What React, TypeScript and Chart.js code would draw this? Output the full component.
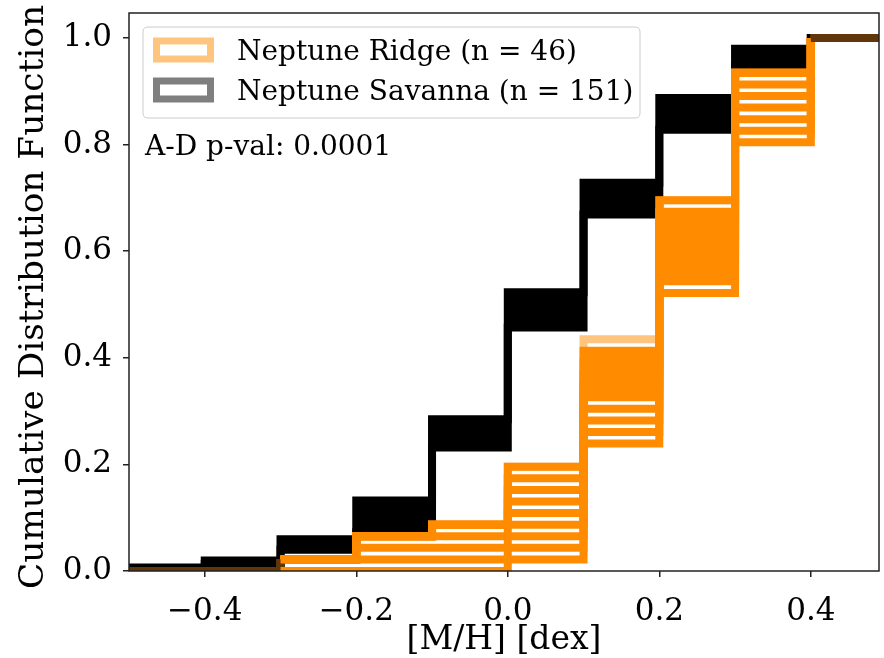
import React, { useEffect, useRef } from "react";
import { Chart, registerables } from "chart.js";

Chart.register(...registerables);

// ---------------- data ----------------
// bin edges of the cumulative step histograms ([M/H] in dex); last edge lies past the axis end
const binEdges = [-0.5, -0.4, -0.3, -0.2, -0.1, 0.0, 0.1, 0.2, 0.3, 0.4, 0.5];

const ridgeN = 46;
const savannaN = 151;

// Neptune Savanna: envelope of the cumulative counts (out of 151) in each bin
const savannaLowerCounts = [0, 2, 6, 11, 35, 69, 101, 125, 143, 151];
const savannaUpperCounts = [1, 3, 9, 20, 43, 79, 110, 134, 148, 151];

// Neptune Ridge: cumulative counts (out of 46) of individual realizations, per bin
const ridgeRealizations = [
  [0, 0, 0, 0, 0, 1, 11, 24, 37, 46],
  [0, 0, 1, 1, 1, 2, 12, 25, 38, 46],
  [0, 0, 1, 2, 2, 3, 13, 26, 39, 46],
  [0, 0, 1, 3, 3, 4, 14, 27, 40, 46],
  [0, 0, 1, 3, 4, 5, 15, 28, 41, 46],
  [0, 0, 1, 3, 4, 6, 16, 29, 42, 46],
  [0, 0, 1, 3, 4, 7, 17, 30, 43, 46],
  [0, 0, 1, 3, 4, 8, 18, 31, 43, 46],
  [0, 0, 1, 3, 4, 9, 19, 32, 43, 46],
];
// rare realization (drawn faint)
const ridgeRareRealization = [0, 0, 1, 3, 4, 9, 20, 32, 43, 46];
// densely covered part of the Ridge band (counts out of 46)
const ridgeDenseLowerCounts = [0, 0, 0, 0, 0, 1, 15, 25, 37, 46];
const ridgeDenseUpperCounts = [0, 0, 0, 0, 0, 1, 19, 31, 37, 46];

const xTickValues = [-0.4, -0.2, 0.0, 0.2, 0.4];
const xTickLabels = ["\u22120.4", "\u22120.2", "0.0", "0.2", "0.4"];
const yTickValues = [0.0, 0.2, 0.4, 0.6, 0.8, 1.0];
const yTickLabels = ["0.0", "0.2", "0.4", "0.6", "0.8", "1.0"];

const xTitle = "[M/H] [dex]";
const yTitle = "Cumulative Distribution Function";
const legendLabels = ["Neptune Ridge (n = 46)", "Neptune Savanna (n = 151)"];
const annotationText = "A-D p-val: 0.0001";

// ---------------- style ----------------
const FONT = '"DejaVu Serif", "Liberation Serif", serif';
const ORANGE = "rgb(255,140,0)";
const ORANGE_FAINT = "rgba(255,140,0,0.5)";
const BROWN = "rgb(96,54,10)";
const AXIS = "#222222";

function toPoints(counts: number[], n: number) {
  const pts = counts.map((c, i) => ({ x: binEdges[i], y: c / n }));
  pts.push({ x: binEdges[binEdges.length - 1], y: counts[counts.length - 1] / n });
  return pts;
}

const ridgeSegment = {
  borderColor: (ctx: any) => {
    const y = ctx.p0.parsed.y;
    const x = ctx.p0.parsed.x;
    if (y >= 1 || (y === 0 && x < -0.3)) return BROWN;
    return undefined;
  },
};

const decorPlugin = {
  id: "decor",
  afterDatasetsDraw(chart: any) {
    const { ctx, chartArea: a } = chart;
    ctx.save();
    // frame
    ctx.strokeStyle = AXIS;
    ctx.lineWidth = 1.5;
    ctx.strokeRect(a.left, a.top, a.right - a.left, a.bottom - a.top);

    // legend box
    const bx = a.left + 14;
    const by = a.top + 14;
    const bw = 497;
    const bh = 91;
    const r = 5;
    ctx.beginPath();
    ctx.moveTo(bx + r, by);
    ctx.lineTo(bx + bw - r, by);
    ctx.quadraticCurveTo(bx + bw, by, bx + bw, by + r);
    ctx.lineTo(bx + bw, by + bh - r);
    ctx.quadraticCurveTo(bx + bw, by + bh, bx + bw - r, by + bh);
    ctx.lineTo(bx + r, by + bh);
    ctx.quadraticCurveTo(bx, by + bh, bx, by + bh - r);
    ctx.lineTo(bx, by + r);
    ctx.quadraticCurveTo(bx, by, bx + r, by);
    ctx.closePath();
    ctx.fillStyle = "rgba(255,255,255,0.8)";
    ctx.fill();
    ctx.strokeStyle = "#cccccc";
    ctx.lineWidth = 1;
    ctx.stroke();

    const patchColors = [ORANGE_FAINT, "rgba(0,0,0,0.5)"];
    ctx.font = `28px ${FONT}`;
    ctx.textBaseline = "alphabetic";
    ctx.textAlign = "left";
    legendLabels.forEach((label, i) => {
      const cy = a.top + 37 + i * 40;
      ctx.strokeStyle = patchColors[i];
      ctx.lineWidth = 7;
      ctx.lineJoin = "miter";
      ctx.strokeRect(a.left + 27.5, cy - 9, 54, 18);
      ctx.fillStyle = "#000";
      ctx.fillText(label, a.left + 108, cy + 10);
    });

    // annotation
    ctx.fillStyle = "#000";
    ctx.fillText(annotationText, a.left + 16, a.top + 142);

    // y-axis title
    ctx.font = `34.3px ${FONT}`;
    ctx.textAlign = "center";
    ctx.textBaseline = "alphabetic";
    ctx.translate(43, (a.top + a.bottom) / 2 + 5);
    ctx.rotate(-Math.PI / 2);
    ctx.fillText(yTitle, 0, 0);
    ctx.restore();
  },
};

export default function App() {
  const canvasRef = useRef<HTMLCanvasElement | null>(null);

  useEffect(() => {
    if (!canvasRef.current) return;
    const stepBase: any = {
      stepped: "before",
      pointRadius: 0,
      pointHoverRadius: 0,
      borderCapStyle: "butt",
      borderJoinStyle: "miter",
      clip: 0,
      fill: false,
    };

    const datasets: any[] = [
      {
        ...stepBase,
        label: "Savanna lower",
        data: toPoints(savannaLowerCounts, savannaN),
        borderColor: "#000",
        borderWidth: 8,
        order: 4,
      },
      {
        ...stepBase,
        label: "Savanna upper",
        data: toPoints(savannaUpperCounts, savannaN),
        borderColor: "#000",
        borderWidth: 8,
        fill: "-1",
        backgroundColor: "#000",
        order: 4,
      },
      {
        ...stepBase,
        label: "Ridge rare",
        data: toPoints(ridgeRareRealization, ridgeN),
        borderColor: ORANGE_FAINT,
        borderWidth: 8,
        order: 3,
        segment: ridgeSegment,
      },
      {
        ...stepBase,
        label: "Ridge dense lower",
        data: toPoints(ridgeDenseLowerCounts, ridgeN),
        borderColor: "rgba(0,0,0,0)",
        borderWidth: 1,
        order: 2,
      },
      {
        ...stepBase,
        label: "Ridge dense upper",
        data: toPoints(ridgeDenseUpperCounts, ridgeN),
        borderColor: "rgba(0,0,0,0)",
        borderWidth: 1,
        fill: "-1",
        backgroundColor: ORANGE,
        order: 2,
      },
      ...ridgeRealizations.map((r, i) => ({
        ...stepBase,
        label: `Ridge ${i}`,
        data: toPoints(r, ridgeN),
        borderColor: ORANGE,
        borderWidth: 8,
        order: 1,
        segment: ridgeSegment,
      })),
    ];

    const zeroPad = (s: any) => {
      s.paddingTop = 0;
      s.paddingBottom = 0;
      s.paddingLeft = 0;
      s.paddingRight = 0;
    };

    const chart = new Chart(canvasRef.current, {
      type: "line",
      data: { datasets },
      options: {
        animation: false,
        responsive: false,
        maintainAspectRatio: false,
        events: [],
        layout: { padding: { top: 13, right: 5, left: 0, bottom: 0 } },
        plugins: {
          legend: { display: false },
          tooltip: { enabled: false },
          title: { display: false },
        },
        scales: {
          x: {
            type: "linear",
            min: -0.5,
            max: 0.49,
            afterBuildTicks: (s: any) => {
              s.ticks = xTickValues.map((v) => ({ value: v }));
            },
            afterFit: (s: any) => {
              s.height = 87;
              zeroPad(s);
            },
            ticks: {
              callback: (_v: any, i: number) => xTickLabels[i],
              font: { family: FONT, size: 31 },
              color: "#000",
              padding: 16,
              maxRotation: 0,
              autoSkip: false,
            },
            grid: {
              drawOnChartArea: false,
              drawTicks: true,
              tickLength: 6,
              color: AXIS,
              lineWidth: 1.5,
            },
            border: { display: false },
            title: {
              display: true,
              text: xTitle,
              font: { family: FONT, size: 33, lineHeight: 1 },
              color: "#000",
              padding: { top: 0, bottom: 1 },
            },
          },
          y: {
            type: "linear",
            min: 0,
            max: 1.047,
            afterBuildTicks: (s: any) => {
              s.ticks = yTickValues.map((v) => ({ value: v }));
            },
            afterFit: (s: any) => {
              s.width = 129;
              zeroPad(s);
            },
            ticks: {
              callback: (_v: any, i: number) => yTickLabels[i],
              font: { family: FONT, size: 31 },
              color: "#000",
              padding: 11,
              autoSkip: false,
            },
            grid: {
              drawOnChartArea: false,
              drawTicks: true,
              tickLength: 6,
              color: AXIS,
              lineWidth: 1.5,
            },
            border: { display: false },
            title: { display: false },
          },
        },
      },
      plugins: [decorPlugin],
    } as any);

    return () => chart.destroy();
  }, []);

  return (
    <div style={{ position: "absolute", left: 0, top: 0, width: 884, height: 658, background: "#fff" }}>
      <canvas ref={canvasRef} width={884} height={658} style={{ display: "block", width: 884, height: 658 }} />
    </div>
  );
}
